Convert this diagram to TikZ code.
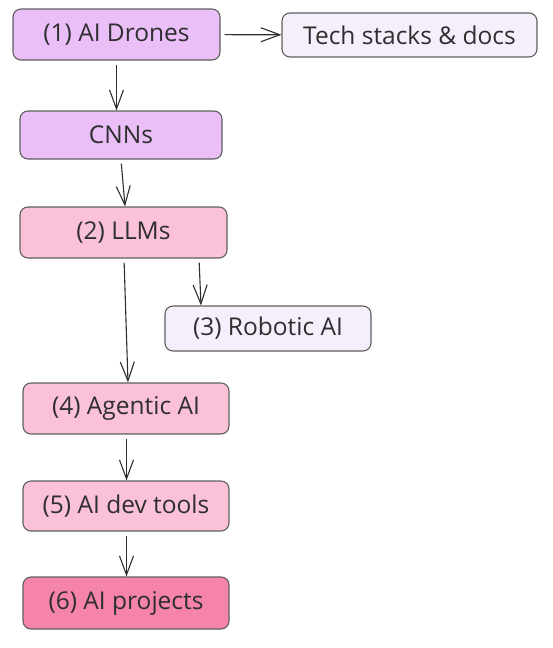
\documentclass[tikz,border=0pt]{standalone}
\usepackage{fontspec}
\setmainfont{Open Sans}
\usetikzlibrary{arrows.meta}
\definecolor{lilac}{HTML}{EABFF8}
\definecolor{palelilac}{HTML}{F7EEFC}
\definecolor{rose}{HTML}{FBC1D9}
\definecolor{deeprose}{HTML}{F683AC}
\definecolor{edgegray}{HTML}{5F5F5F}
\definecolor{inkgray}{HTML}{2E2E2E}
\begin{document}
\begin{tikzpicture}[x=1pt,y=-1pt,thick,shorten <=4pt,
    box/.style={draw=edgegray,line width=1.1pt,rounded corners=8pt,font=\fontsize{24.5}{28}\selectfont,text=inkgray},
    arr/.style={-{Straight Barb[length=19pt,width=14pt,line width=1.1pt]},line width=1.1pt,inkgray}]
				\useasboundingbox (0,0) rectangle (552,648);
				\node[box,fill=lilac,minimum width=207pt,minimum height=51pt] (drones) at (116.5,34.5) {(1) AI Drones};
				\node[box,fill=palelilac,minimum width=255pt,minimum height=44pt] (docs) at (409.5,35) {Tech stacks \& docs};
				\node[box,fill=lilac,minimum width=202pt,minimum height=48pt] (cnn) at (121,135) {CNNs};
				\node[box,fill=rose,minimum width=207pt,minimum height=51pt] (llm) at (123.5,232.5) {(2) LLMs};
				\node[box,fill=palelilac,minimum width=206pt,minimum height=45pt] (robot) at (268,328.5) {(3) Robotic AI};
				\node[box,fill=rose,minimum width=206pt,minimum height=51pt] (agent) at (126,408.5) {(4) Agentic AI};
				\node[box,fill=rose,minimum width=206pt,minimum height=50pt] (devtools) at (126,506) {(5) AI dev tools};
				\node[box,fill=deeprose,minimum width=206pt,minimum height=52pt] (projects) at (126,603) {(6) AI projects};
				\draw[arr] (drones) -- (docs);
				\draw[arr] (drones.south) -- (drones.south |- cnn.north);
				\draw[arr] (cnn.south) -- ([xshift=1.5pt]llm.north);
				\draw[arr] ([xshift=75.5pt]llm.south) -- ([xshift=-67pt]robot.north);
				\draw[arr] ([xshift=0.5pt]llm.south) -- ([xshift=2pt]agent.north);
				\draw[arr] ([xshift=0.5pt]agent.south) -- ([xshift=0.5pt]devtools.north);
				\draw[arr] ([xshift=0.5pt]devtools.south) -- ([xshift=0.5pt]projects.north);
			\end{tikzpicture}
\end{document}
